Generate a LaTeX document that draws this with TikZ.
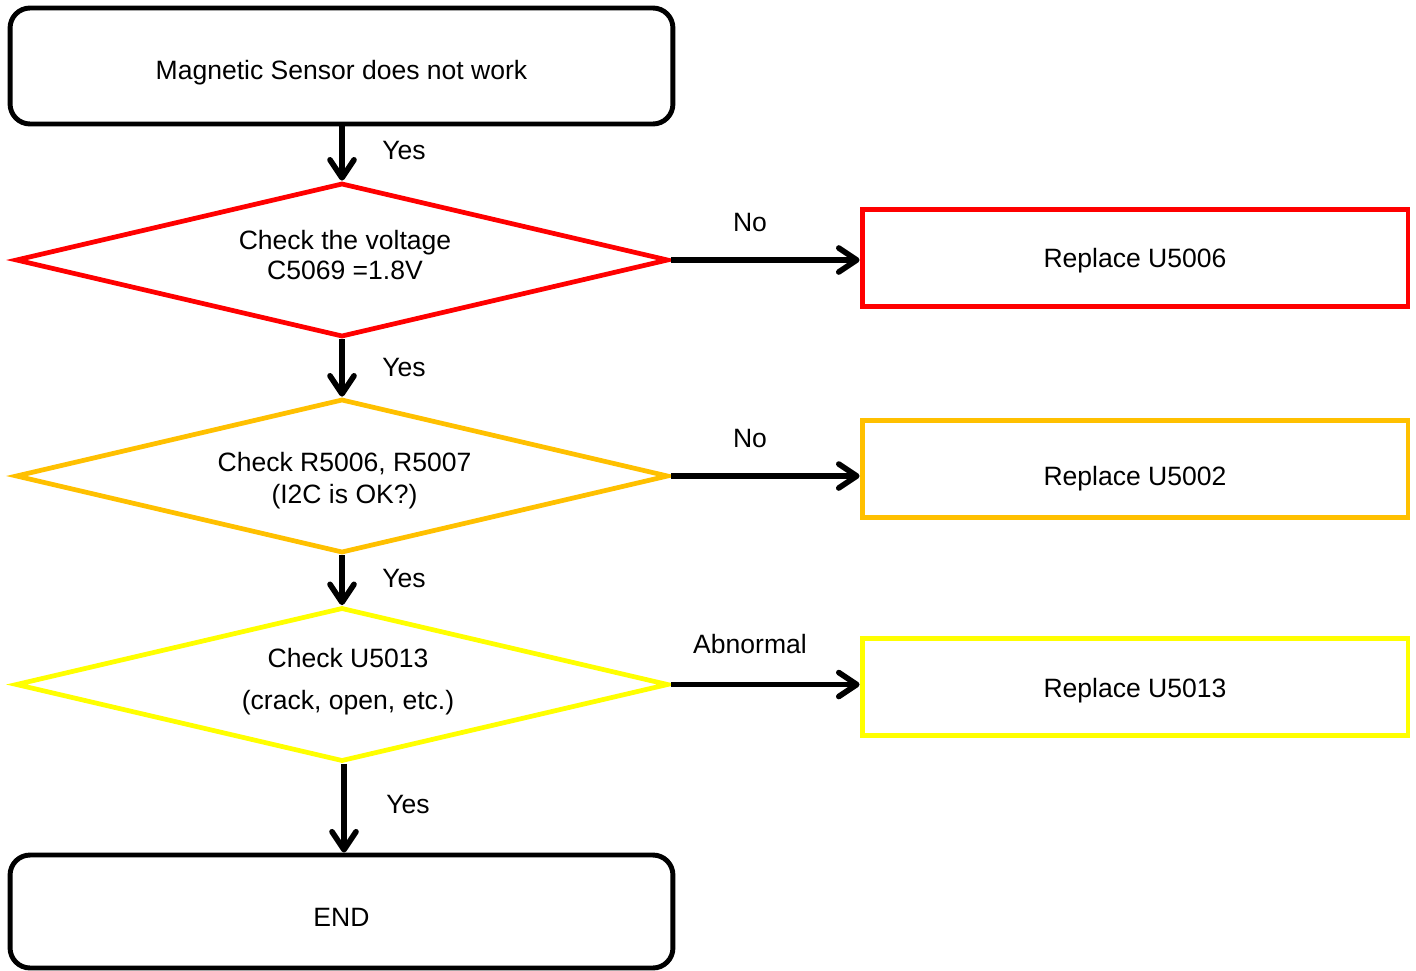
\documentclass[tikz,border=0pt]{standalone}
\usepackage{fontspec}
\setmainfont{Liberation Sans}
\usetikzlibrary{arrows.meta,shapes.geometric}
\definecolor{chkRed}{HTML}{FF0000}
\definecolor{chkOrange}{HTML}{FFC000}
\definecolor{chkYellow}{HTML}{FFFF00}
% lower a text by #1 without changing the node size
\newcommand{\lowertext}[2]{\raisebox{-#1}[0pt][0pt]{#2}}
\newcommand{\twolines}[3]{\raisebox{-#1}[0pt][0pt]{\begin{tabular}[t]{@{\hspace{#2}}c@{}}#3\end{tabular}}}
\tikzset{
  endbox/.style={draw=black,line width=2.8pt,rounded corners=0.4cm,minimum width=13.26cm,inner sep=0pt},
  checkbox/.style={diamond,aspect=4.24,draw=#1,line width=2.7pt,minimum width=13.06cm,minimum height=3.08cm,inner sep=0pt},
  fixbox/.style={draw=#1,line width=2.8pt,minimum width=10.92cm,minimum height=1.94cm,inner sep=0pt},
  flow/.style={line width=3.2pt,-{Straight Barb[round,length=0.36cm,width=0.48cm]}},
  lab/.style={inner sep=0pt}
}
\begin{document}
\begin{tikzpicture}[x=0.02cm,y=-0.02cm,font=\fontsize{15.1}{18}\selectfont]
\useasboundingbox (0,0) rectangle (1416,970);
% start and end
\node[endbox,minimum height=2.32cm] (start) at (341.5,66) {\lowertext{0.27cm}{Magnetic Sensor does not work}};
\node[endbox,minimum height=2.26cm] (end) at (341.5,911.5) {\lowertext{0.3cm}{END}};
% checks
\node[checkbox=chkRed] (volt) at (342,260) {\twolines{-0.21cm}{0.12cm}{Check the voltage\\[-0.035cm]C5069 =1.8V}};
\node[checkbox=chkOrange] (res) at (342,476) {\twolines{-0.09cm}{0.1cm}{Check R5006, R5007\\(I2C is OK?)}};
\node[checkbox=chkYellow] (chip) at (342,684.5) {\twolines{-0.34cm}{0.24cm}{Check U5013\\[0.2cm](crack, open, etc.)}};
% repairs
\node[fixbox=chkRed] (rep1) at (1135,258) {\lowertext{0.19cm}{Replace U5006}};
\node[fixbox=chkOrange] (rep2) at (1135,469) {\lowertext{0.33cm}{Replace U5002}};
\node[fixbox=chkYellow] (rep3) at (1135,687) {\lowertext{0.21cm}{Replace U5013}};
% connectors
\draw[flow] (start.south -| volt.north) -- (volt.north);
\draw[flow] (volt.south) -- (res.north);
\draw[flow] (res.south) -- (chip.north);
\draw[flow] ([xshift=0.04cm]chip.south) -- ([xshift=0.04cm]end.north -| chip.south);
\draw[flow] (volt.east) -- (volt.east -| rep1.west);
\draw[flow] (res.east) -- (res.east -| rep2.west);
\draw[flow] (chip.east) -- (chip.east -| rep3.west);
% labels
\node[lab] (y1) at (404,151) {Yes};
\node[lab] (y2) at (404,367) {Yes};
\node[lab] (y3) at (404,578) {Yes};
\node[lab] (y4) at (408,804) {Yes};
\node[lab] (n1) at (750,223) {No};
\node[lab] (n2) at (750,438) {No};
\node[lab] (ab) at (750,644) {Abnormal};
\end{tikzpicture}
\end{document}
